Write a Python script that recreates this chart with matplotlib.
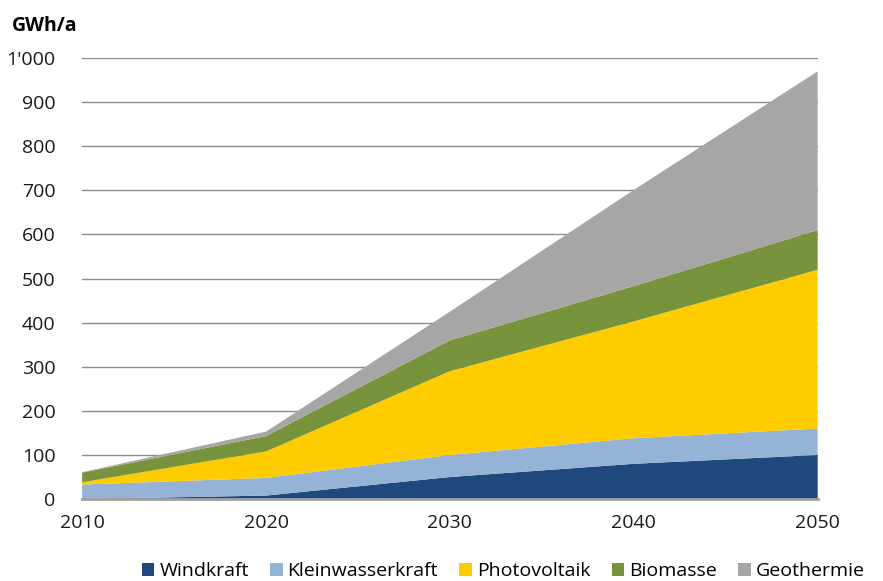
import matplotlib
matplotlib.use("Agg")
import matplotlib.pyplot as plt
from matplotlib.patches import Patch
from matplotlib.ticker import FuncFormatter

plt.rcParams["font.family"] = ["Open Sans", "DejaVu Sans"]

years = [2010, 2020, 2030, 2040, 2050]
series = ["Windkraft", "Kleinwasserkraft", "Photovoltaik", "Biomasse", "Geothermie"]
windkraft = [0, 8, 50, 80, 100]
kleinwasserkraft = [33, 40, 50, 58, 60]
photovoltaik = [5, 60, 190, 265, 360]
biomasse = [22, 35, 70, 80, 90]
geothermie = [1, 10, 65, 218, 360]
colors = ["#1F497D", "#95B3D7", "#FFCC00", "#77933C", "#A6A6A6"]

fig = plt.figure(figsize=(8.83, 5.81), dpi=100)
ax = fig.add_axes([0.093, 0.141, 0.833, 0.759])

ax.stackplot(years, windkraft, kleinwasserkraft, photovoltaik, biomasse, geothermie,
             colors=colors, linewidth=0, zorder=2)

ax.set_xlim(2010, 2050)
ax.set_ylim(0, 1000)
ax.set_xticks(years)
ax.set_yticks(range(0, 1001, 100))
ax.yaxis.set_major_formatter(FuncFormatter(lambda v, _: f"{int(v):,}".replace(",", "'")))
ax.grid(axis="y", color="#8c8c8c", linewidth=1, zorder=1)
ax.set_axisbelow(True)
for side in ["left", "right", "top"]:
    ax.spines[side].set_visible(False)
ax.spines["bottom"].set_color("#a0a0a0")
ax.spines["bottom"].set_linewidth(2)
ax.spines["bottom"].set_zorder(3)
ax.tick_params(axis="y", length=0, pad=19, labelsize=14, colors="#1a1a1a")
ax.tick_params(axis="x", length=0, pad=11, labelsize=14, colors="#1a1a1a")

fig.text(0.014, 0.955, "GWh/a", fontsize=14, fontweight="bold", ha="left", va="center")

handles = [Patch(facecolor=c, edgecolor="none") for c in colors]
fig.legend(handles, series, loc="center", bbox_to_anchor=(0.57, 0.017), ncol=5,
           frameon=False, fontsize=14, handlelength=0.65, handleheight=0.65,
           handletextpad=0.25, columnspacing=1.1, borderaxespad=0)

fig.savefig("out.png", dpi=100)
